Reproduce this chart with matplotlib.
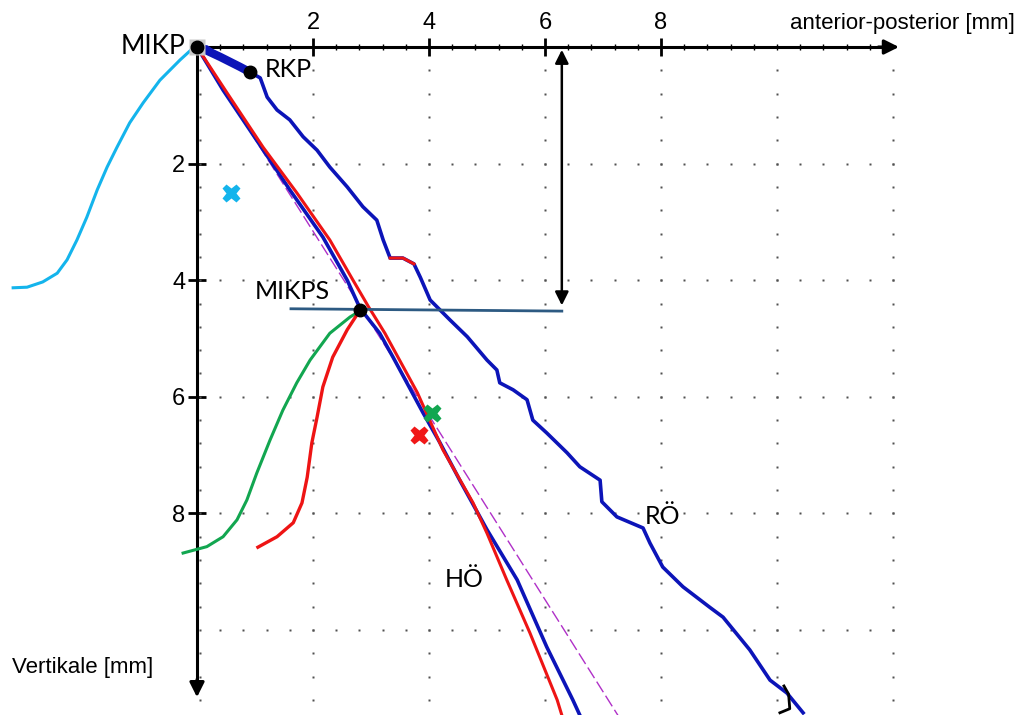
"""Jaw movement tracings (MIKP / MIKPS) redrawn with matplotlib."""

import numpy as np
import matplotlib
matplotlib.use("Agg")
import matplotlib.pyplot as plt

# ---- data (mm): x = anterior-posterior, y = vertical (downwards) ----
hoe_blue_x = [0, 0.45, 1.03, 1.60, 2.17, 2.59, 2.81, 3.15, 3.38, 3.90, 4.19, 4.53, 5.00, 5.52, 6.03, 6.48, 6.60]
hoe_blue_y = [0, 0.74, 1.60, 2.45, 3.26, 4.00, 4.48, 4.91, 5.32, 6.28, 6.79, 7.43, 8.28, 9.14, 10.29, 11.20, 11.46]

hoe_red_x = [0, 0.52, 1.14, 1.72, 2.29, 2.69, 2.96, 3.24, 3.80, 4.24, 4.76, 5.00, 5.34, 5.74, 6.21, 6.29]
hoe_red_y = [0, 0.79, 1.72, 2.50, 3.31, 4.00, 4.46, 4.91, 5.93, 6.91, 7.82, 8.34, 9.14, 10.05, 11.20, 11.46]

ref_line_x = [0, 7.28]
ref_line_y = [0, 11.5]

roe_x = [0, 0.17, 0.40, 0.74, 0.91, 1.09, 1.21, 1.38, 1.60, 1.83, 2.07, 2.29, 2.59, 2.86, 3.10,
         3.21, 3.33, 3.55, 3.74, 3.85, 4.02, 4.36, 4.66, 5.00, 5.17, 5.22, 5.45, 5.69, 5.79,
         6.03, 6.38, 6.60, 6.95, 6.98, 7.24, 7.69, 7.81, 8.03, 8.38, 8.84, 9.07, 9.53, 9.88,
         10.17, 10.45]
roe_y = [0, 0, 0.17, 0.34, 0.43, 0.53, 0.86, 1.08, 1.25, 1.54, 1.77, 2.06, 2.40, 2.74, 2.97,
         3.31, 3.62, 3.62, 3.72, 3.95, 4.34, 4.68, 4.97, 5.37, 5.54, 5.76, 5.88, 6.05, 6.40,
         6.62, 6.96, 7.20, 7.43, 7.80, 8.06, 8.25, 8.51, 8.92, 9.26, 9.61, 9.78, 10.34, 10.86,
         11.08, 11.42]
roe_red_x = [3.33, 3.55, 3.74]
roe_red_y = [3.62, 3.62, 3.72]
roe_thick_x = [0.10, 0.40, 0.74, 0.91]
roe_thick_y = [0.03, 0.17, 0.34, 0.43]
tail_x = [10.12, 10.2, 10.22, 10.05]
tail_y = [10.96, 11.1, 11.35, 11.42]

cyan_x = [0, -0.07, -0.29, -0.64, -0.93, -1.16, -1.38, -1.55, -1.72, -1.90, -2.07, -2.24,
          -2.41, -2.66, -2.93, -3.17]
cyan_y = [0, 0.02, 0.22, 0.57, 0.96, 1.30, 1.72, 2.06, 2.45, 2.92, 3.31, 3.65,
          3.88, 4.03, 4.12, 4.13]

green_x = [2.84, 2.64, 2.29, 1.95, 1.72, 1.48, 1.26, 1.03, 0.86, 0.69, 0.45, 0.17, -0.24]
green_y = [4.51, 4.63, 4.91, 5.37, 5.76, 6.23, 6.74, 7.31, 7.77, 8.11, 8.40, 8.57, 8.68]

red_curve_x = [2.83, 2.78, 2.59, 2.34, 2.17, 2.07, 1.98, 1.90, 1.81, 1.66, 1.38, 1.05]
red_curve_y = [4.51, 4.56, 4.85, 5.32, 5.83, 6.35, 6.79, 7.38, 7.82, 8.16, 8.40, 8.58]

cross_x = [0.59, 4.05, 3.83]
cross_y = [2.50, 6.28, 6.66]
cross_c = ["#14b4ec", "#12a650", "#f01818"]

point_names = ["MIKP", "RKP", "MIKPS"]
point_x = [0, 0.91, 2.81]
point_y = [0, 0.43, 4.51]

level_x = [1.62, 6.29]
level_y = [4.49, 4.53]

x_ticks = [2, 4, 6, 8]
y_ticks = [2, 4, 6, 8]

BLUE = "#0c14b8"
RED = "#ee1414"
LABEL_FONT = ["Lato", "DejaVu Sans"]
AXIS_FONT = ["Liberation Sans", "DejaVu Sans"]


def main() -> None:
    fig = plt.figure(figsize=(10.24, 7.15), dpi=100)
    ax = fig.add_axes([0, 0, 1, 1])
    ax.set_xlim(-197 / 58, 827 / 58)
    ax.set_ylim(668 / 58.3, -47 / 58.3)

    # axes as spines crossing at the origin
    for side in ("right", "bottom"):
        ax.spines[side].set_visible(False)
    ax.spines["top"].set_position(("data", 0))
    ax.spines["left"].set_position(("data", 0))
    ax.spines["top"].set_bounds(0, 12.0)
    ax.spines["left"].set_bounds(0, 11.0)
    for side in ("top", "left"):
        ax.spines[side].set_linewidth(2.2)
    ax.xaxis.set_ticks_position("top")
    ax.yaxis.set_ticks_position("left")
    ax.set_xticks(x_ticks)
    ax.set_yticks(y_ticks)
    ax.set_xticks(np.arange(0.4, 12.0, 0.4), minor=True)
    ax.tick_params(axis="x", which="major", direction="inout", length=13, width=2, pad=3, labelsize=17)
    ax.tick_params(axis="x", which="minor", direction="inout", length=5, width=1)
    ax.tick_params(axis="y", which="major", direction="inout", length=13, width=2, pad=2, labelsize=17)
    for lab in ax.get_xticklabels() + ax.get_yticklabels():
        lab.set_family(AXIS_FONT)
    ax.annotate("", xy=(12.15, 0), xytext=(11.7, 0),
                arrowprops=dict(arrowstyle="-|>", color="black", lw=2.2, mutation_scale=22))
    ax.annotate("", xy=(0, 11.2), xytext=(0, 10.8),
                arrowprops=dict(arrowstyle="-|>", color="black", lw=2.2, mutation_scale=22))

    # dotted grid
    dots = np.arange(0.4, 11.3, 0.4)
    for gx in [0.06, 2, 4, 6, 8, 10, 12]:
        ax.plot(np.full_like(dots, gx), dots, ls="none", marker="s", ms=1.5, color="#505050", mec="none")
    row = np.arange(0.4, 12.05, 0.4)
    for gy in [2, 4, 6, 8, 10]:
        ax.plot(row, np.full_like(row, gy), ls="none", marker="s", ms=1.5, color="#505050", mec="none")

    # curves
    ax.plot(ref_line_x, ref_line_y, color="#b030c8", lw=1.0, dashes=(9, 3), zorder=3)
    ax.plot(roe_x, roe_y, color=BLUE, lw=2.6, zorder=4)
    ax.plot(roe_thick_x, roe_thick_y, color=BLUE, lw=6, solid_capstyle="round", zorder=4)
    ax.plot(roe_red_x, roe_red_y, color=RED, lw=2.2, zorder=5)
    ax.plot(tail_x, tail_y, color="black", lw=2, zorder=5)
    ax.plot(hoe_blue_x, hoe_blue_y, color=BLUE, lw=2.6, zorder=4)
    ax.plot(hoe_red_x, hoe_red_y, color=RED, lw=2.2, zorder=5)
    ax.plot(cyan_x, cyan_y, color="#14b4ec", lw=2.2, zorder=4)
    ax.plot(green_x, green_y, color="#12a650", lw=2.2, zorder=4)
    ax.plot(red_curve_x, red_curve_y, color=RED, lw=2.4, zorder=4)
    for cx, cy, cc in zip(cross_x, cross_y, cross_c):
        ax.plot(cx, cy, marker="X", ms=13, color=cc, mec="none", zorder=6)

    # MIKPS level and distance arrow
    ax.plot(level_x, level_y, color="#2d5a82", lw=2, zorder=6)
    ax.annotate("", xy=(level_x[1], level_y[1] - 0.05), xytext=(level_x[1], 0),
                arrowprops=dict(arrowstyle="<|-|>", color="black", lw=1.8, mutation_scale=20),
                zorder=6)

    ax.plot(0, 0, marker="s", ms=11, color="#c8c8c8", mec="none", zorder=6)
    ax.plot(point_x, point_y, ls="none", marker="o", ms=9, color="black", zorder=7)

    # labels
    ax.text(-0.2, 0.0, point_names[0], ha="right", va="center", fontsize=19, family=LABEL_FONT)
    ax.text(1.17, 0.38, point_names[1], ha="left", va="center", fontsize=18, family=LABEL_FONT)
    ax.text(1.0, 4.2, point_names[2], ha="left", va="center", fontsize=18, family=LABEL_FONT)
    ax.text(4.28, 9.14, "HÖ", ha="left", va="center", fontsize=18, family=LABEL_FONT)
    ax.text(7.72, 8.05, "RÖ", ha="left", va="center", fontsize=18, family=LABEL_FONT)
    ax.text(14.1, -0.4, "anterior-posterior [mm]", ha="right", va="center", fontsize=16,
            family=AXIS_FONT)
    ax.text(-3.19, 10.65, "Vertikale [mm]", ha="left", va="center", fontsize=16, family=AXIS_FONT)

    fig.savefig("out.png", dpi=100)
    plt.close(fig)


if __name__ == "__main__":
    main()
